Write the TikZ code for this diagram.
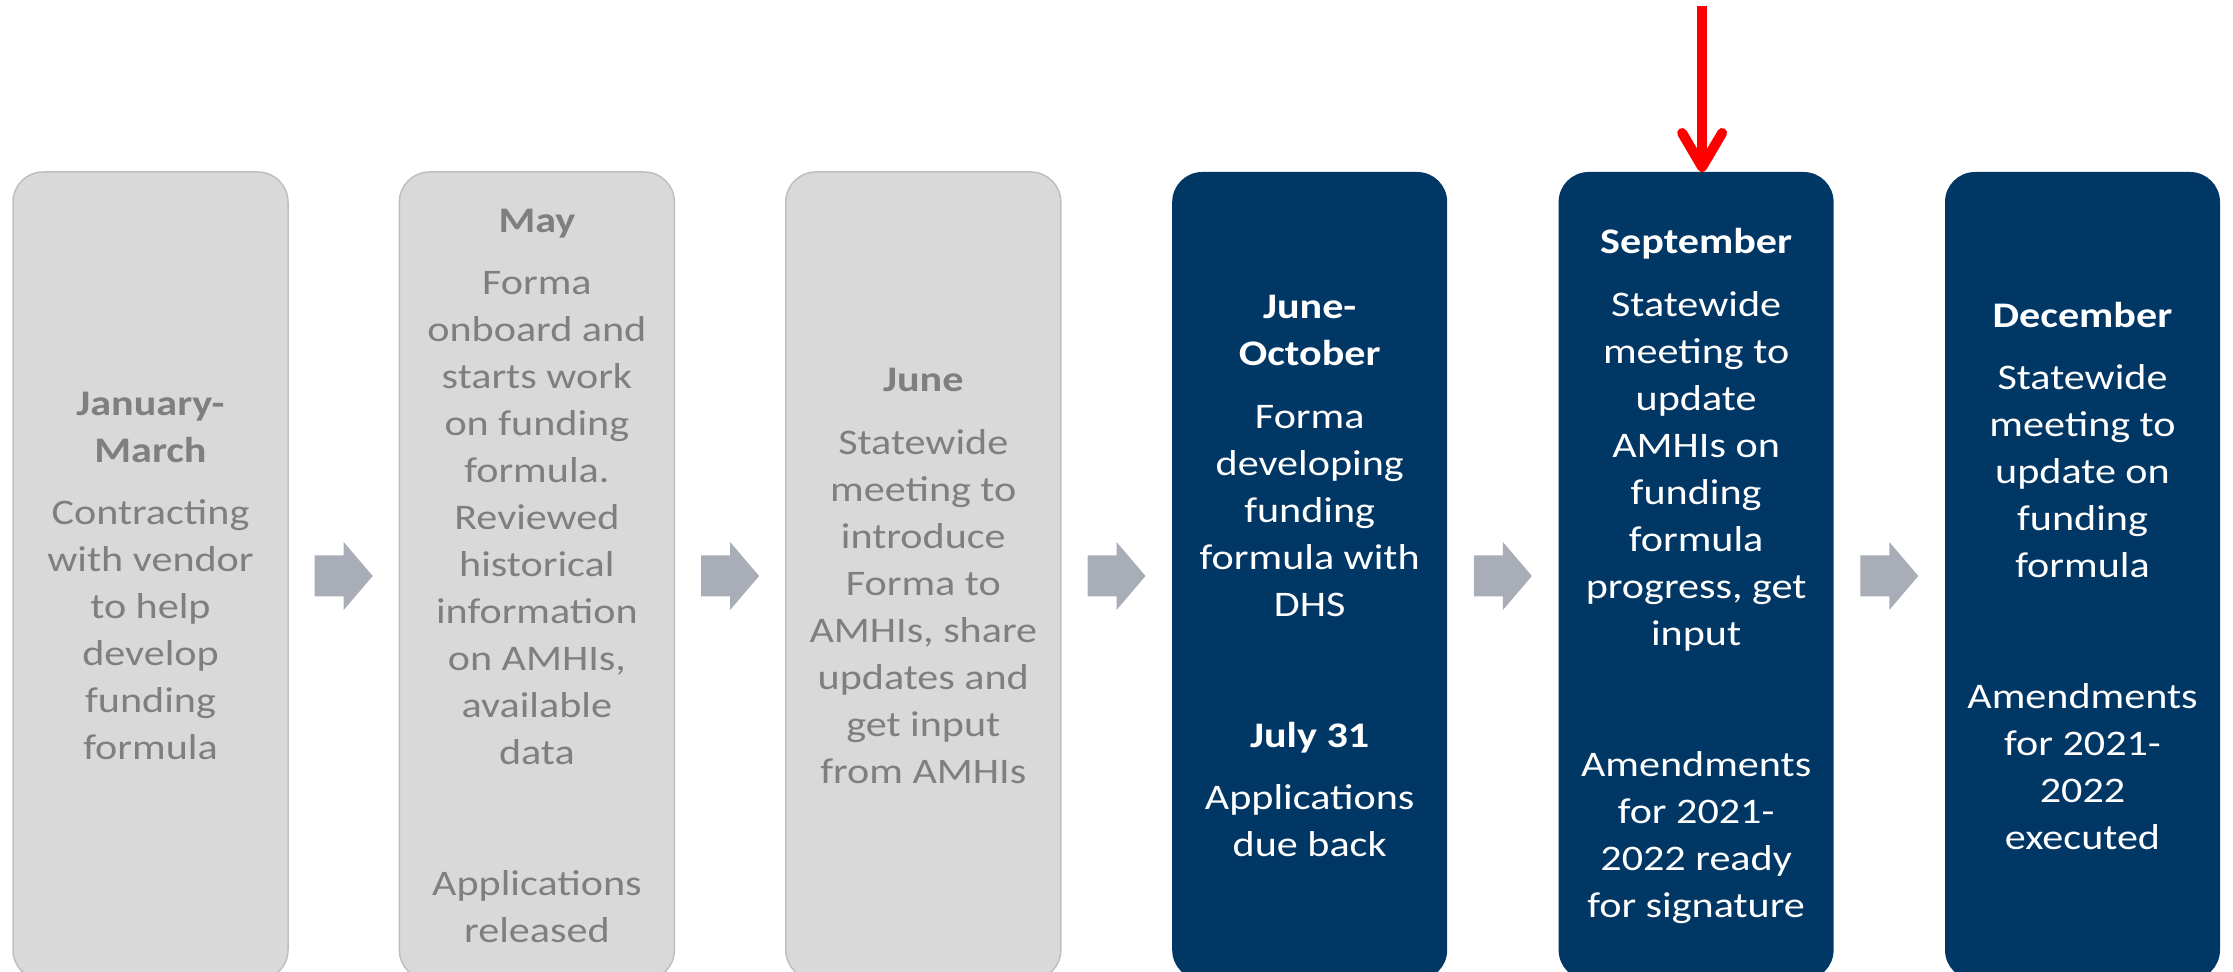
\documentclass[tikz,border=0pt]{standalone}
\usepackage{fontspec}
\setmainfont{Carlito}[FakeStretch=1.17]
\usetikzlibrary{arrows.meta,calc,positioning}

\definecolor{boxgrey}{HTML}{D9D9D9}
\definecolor{edgegrey}{HTML}{BFBFBF}
\definecolor{textgrey}{HTML}{7F7F7F}
\definecolor{navy}{HTML}{003764}
\definecolor{arrowgrey}{HTML}{A9ADB8}

\begin{document}
\begin{tikzpicture}[font=\fontsize{18}{23.5}\selectfont,
	month/.style={rounded corners=15pt, minimum width=137.5pt, minimum height=404pt, align=center, inner sep=0pt, outer sep=0pt},
	past/.style={month, fill=boxgrey, draw=edgegrey, line width=0.75pt, text=textgrey},
	ahead/.style={month, fill=navy, text=white},
	step arrow/.style={fill=arrowgrey},
	alert/.style={draw=red, line width=5pt, -{Straight Barb[round, length=17pt, width=20pt]}},
	node distance=55.7pt]
	\useasboundingbox (0,0) rectangle (1116.5pt,-486pt);
	\node[past, anchor=north west] (jan) at (6.5pt,-86pt) {\textbf{January-}\\\textbf{March}\\[7.8pt]Contracting\\with vendor\\to help\\develop\\funding\\formula};
	\node[past, right=of jan] (may) {\textbf{May}\\[7.8pt]Forma\\onboard and\\starts work\\on funding\\formula.\\Reviewed\\historical\\information\\on AMHIs,\\available\\data\\[42pt]Applications\\released};
	\node[past, right=of may] (jun) {\textbf{June}\\[7.8pt]Statewide\\meeting to\\introduce\\Forma to\\AMHIs, share\\updates and\\get input\\from AMHIs};
	\node[ahead, right=of jun] (oct) {\textbf{June-}\\\textbf{October}\\[7.8pt]Forma\\developing\\funding\\formula with\\DHS\\[42pt]\textbf{July 31}\\[7.8pt]Applications\\due back};
	\node[ahead, right=of oct] (sep) {\textbf{September}\\[7.8pt]Statewide\\meeting to\\update\\AMHIs on\\funding\\formula\\progress, get\\input\\[42pt]Amendments\\for 2021-\\2022 ready\\for signature};
	\node[ahead, right=of sep] (dec) {\textbf{December}\\[7.8pt]Statewide\\meeting to\\update on\\funding\\formula\\[42pt]Amendments\\for 2021-\\2022\\executed};
	% arrows between the months
	\foreach \a/\b in {jan/may,may/jun,jun/oct,oct/sep,sep/dec}
		\fill[step arrow, shift={($(\a.east)!.5!(\b.west)$)}]
			(-14.5pt,10.25pt) -- (0,10.25pt) -- (0,17pt) -- (14.5pt,0) -- (0,-17pt) -- (0,-10.25pt) -- (-14.5pt,-10.25pt) -- cycle;
	\coordinate[above=83pt of sep.north, xshift=3pt] (now);
	\draw[alert] (now) -- (now |- sep.north);
\end{tikzpicture}
\end{document}
